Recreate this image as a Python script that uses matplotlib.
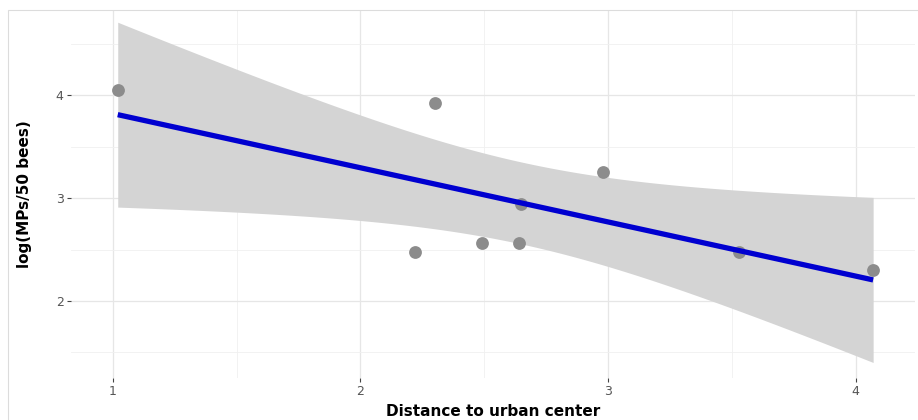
import numpy as np
import matplotlib.pyplot as plt
from matplotlib.patches import Rectangle

# distance to urban center vs log microplastics per 50 bees
distance = [1.02, 2.30, 2.22, 2.49, 2.64, 2.65, 2.98, 3.53, 4.07]
log_mps = [4.05, 3.93, 2.48, 2.56, 2.56, 2.94, 3.25, 2.48, 2.30]

x = np.array(distance)
y = np.array(log_mps)
n = len(x)

# linear fit + 95% confidence band (like geom_smooth(method="lm"))
slope, intercept = np.polyfit(x, y, 1)
xs = np.linspace(x.min(), x.max(), 200)
fit = intercept + slope * xs
resid = y - (intercept + slope * x)
s = np.sqrt(np.sum(resid ** 2) / (n - 2))
sxx = np.sum((x - x.mean()) ** 2)
t_crit = 2.3646  # t(0.975, df=7)
half = t_crit * s * np.sqrt(1.0 / n + (xs - x.mean()) ** 2 / sxx)

fig = plt.figure(figsize=(9.18, 4.2), dpi=100)
ax = fig.add_axes([0.077, 0.1, 0.92, 0.876])

ax.fill_between(xs, fit - half, fit + half, color='#d4d4d4', lw=0, zorder=2)
ax.scatter(x, y, s=85, color='#8c8c8c', lw=0, zorder=3)
ax.plot(xs, fit, color='#0000d0', lw=3.8, zorder=4, solid_capstyle='butt')

ax.set_xlim(0.83, 4.24)
ax.set_ylim(1.25, 4.83)
ax.set_xticks([1, 2, 3, 4])
ax.set_yticks([2, 3, 4])
ax.set_xticks([1.5, 2.5, 3.5], minor=True)
ax.set_yticks([1.5, 2.5, 3.5, 4.5], minor=True)
ax.grid(True, which='major', color='#e6e6e6', lw=0.9, zorder=0)
ax.grid(True, which='minor', color='#f0f0f0', lw=0.6, zorder=0)
ax.set_axisbelow(True)
for sp in ax.spines.values():
    sp.set_visible(False)
ax.tick_params(which='major', length=3, width=0.8, color='#444444',
               labelcolor='#555555', labelsize=9, pad=2)
ax.tick_params(which='minor', length=0)

ax.set_xlabel('Distance to urban center', fontsize=11, fontweight='bold', labelpad=4)
ax.set_ylabel('log(MPs/50 bees)', fontsize=11, fontweight='bold', labelpad=17)

# thin outer frame seen along the image's top and left edges
fig.patches.append(Rectangle((0.009, -0.01), 1.0, 0.986, transform=fig.transFigure,
                             fill=False, ec='#dcdcdc', lw=0.8))

fig.savefig('out.png', dpi=100)
